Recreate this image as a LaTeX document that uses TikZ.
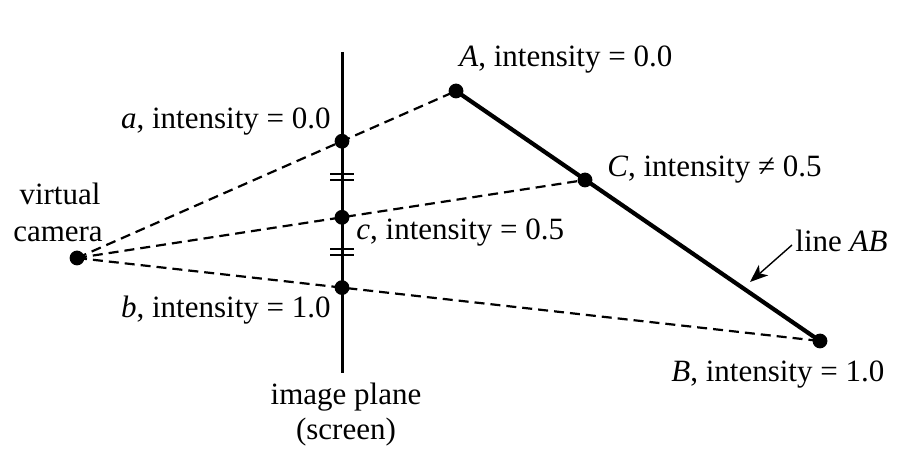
\documentclass[tikz,border=0pt]{standalone}
\usepackage{fontspec}
\setmainfont{Liberation Serif}
\usetikzlibrary{calc,arrows.meta}
\begin{document}
\begin{tikzpicture}[x=0.5pt,y=-0.5pt,
  dotnode/.style={circle,fill=black,inner sep=0pt,minimum size=7.4pt},
  lbl/.style={inner sep=0pt,font=\fontsize{15.5}{18}\selectfont},
  rayline/.style={dashed,dash pattern=on 5pt off 3pt,line width=1.1pt},
  planeline/.style={line width=1.5pt},
  segline/.style={line width=2.1pt},
  hashline/.style={line width=1pt},
  pointer/.style={line width=0.7pt,-{Stealth[length=9pt,width=7pt,inset=2.5pt]}}]
\useasboundingbox (0,0) rectangle (924,474);
% key points
\coordinate (cam) at (77,258);
\coordinate (A) at (456,91);
\coordinate (C) at (585,180);
\coordinate (B) at (820,341);
\coordinate (ptop) at (342,52);
\coordinate (pbot) at (342,373);
\coordinate (a) at ($(cam)!{265/379}!(A)$);
\coordinate (c) at ($(cam)!{265/508}!(C)$);
\coordinate (b) at ($(cam)!{265/743}!(B)$);
% rays
\draw[rayline] (cam) -- (A);
\draw[rayline] (cam) -- (C);
\draw[rayline] (cam) -- (B);
% image plane
\draw[planeline] (ptop) -- (pbot);
% line AB
\draw[segline] (A) -- (B);
% hash marks
\foreach \yy in {177,252}{
  \draw[hashline] (330,\yy-3) -- (354,\yy-3);
  \draw[hashline] (330,\yy+3) -- (354,\yy+3);
}
% dots
\node[dotnode] (ncam) at (cam) {};
\node[dotnode] (nA) at (A) {};
\node[dotnode] (nC) at (C) {};
\node[dotnode] (nB) at (B) {};
\node[dotnode] (na) at (a) {};
\node[dotnode] (nc) at (c) {};
\node[dotnode] (nb) at (b) {};
% labels
\node[lbl,anchor=base west] (lA) at (459,67) {\textit{A}, intensity = 0.0};
\node[lbl,anchor=base east] (la) at (331,129) {\textit{a}, intensity = 0.0};
\node[lbl,anchor=base west] (lC) at (607,177) {\textit{C}, intensity ≠ 0.5};
\node[lbl,anchor=base west] (lc) at (356,240) {\textit{c}, intensity = 0.5};
\node[lbl,anchor=base east] (lb) at (331,318) {\textit{b}, intensity = 1.0};
\node[lbl,anchor=base west] (lB) at (671,382) {\textit{B}, intensity = 1.0};
\node[lbl,anchor=base west] (lAB) at (795,252) {line \textit{AB}};
\node[lbl,anchor=base] (lvirt) at (60,205) {virtual};
\node[lbl,anchor=base] (lcam) at (58,242) {camera};
\node[lbl,anchor=base] (limg) at (346,405) {image plane};
\node[lbl,anchor=base] (lscr) at (346,440) {(screen)};
% pointer
\coordinate (ptail) at (792,245);
\coordinate (ptip) at (750,282);
\draw[pointer] (ptail) -- (ptip);
\end{tikzpicture}
\end{document}
